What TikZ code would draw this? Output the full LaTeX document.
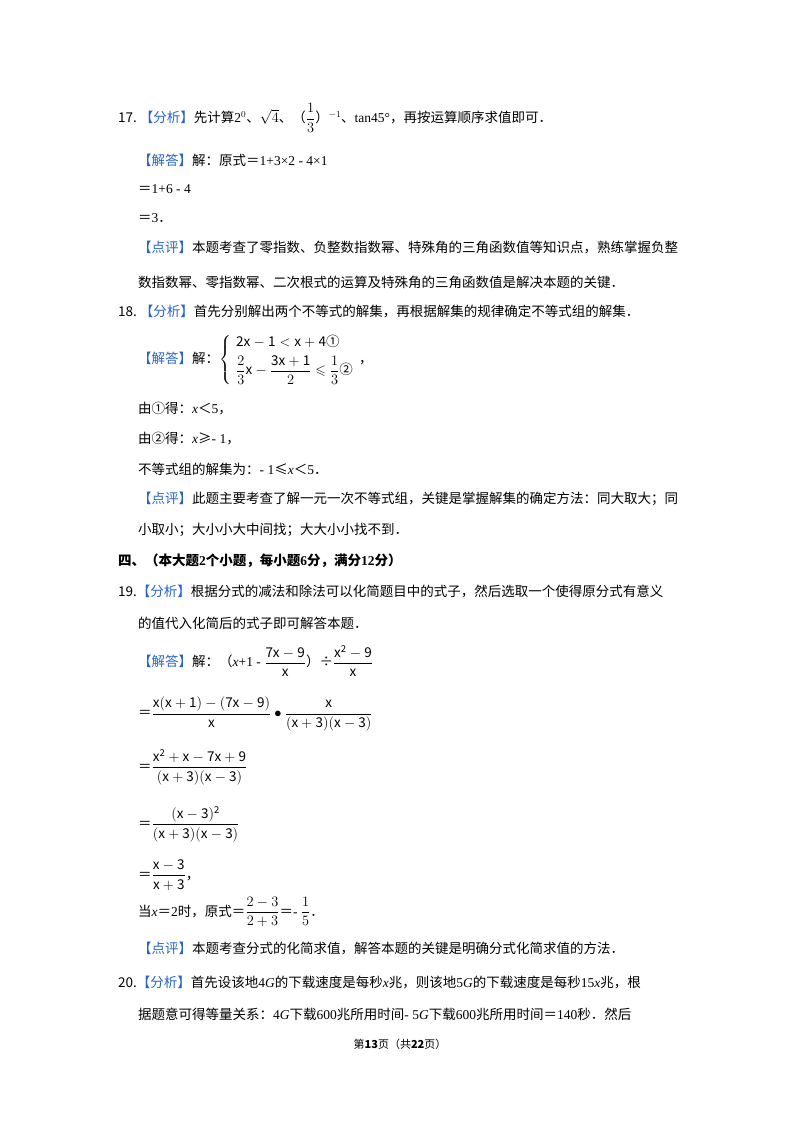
\documentclass[tikz,border=0pt]{standalone}
\usepackage{amsmath,amssymb}
\usepackage{fontspec}
\setmainfont{Noto Sans CJK SC}
\newfontfamily\ser{Liberation Serif}
\definecolor{tagblue}{RGB}{40,100,200}
\newcommand{\tg}[1]{\textcolor{tagblue}{【#1】}}
\begin{document}
\begin{tikzpicture}[x=1pt,y=-1pt,
  t/.style={anchor=west,inner sep=0pt,font=\fontsize{13.5}{16}\selectfont}]
\useasboundingbox (0,0) rectangle (800,1132);
\node[t] (l1) at (118,118) {17.\ \tg{分析}先计算{\ser 2$^0$}、$\sqrt{4}$、（$\dfrac{1}{3}$）$^{-1}$、{\ser tan45°}，再按运算顺序求值即可．};
\node[t] (l2) at (138,160) {\tg{解答}解：原式＝{\ser 1+3×2 - 4×1}};
\node[t] (l3) at (138,189) {＝{\ser 1+6 - 4}};
\node[t] (l4) at (138,218) {＝{\ser 3}．};
\node[t] (l5) at (138,248) {\tg{点评}本题考查了零指数、负整数指数幂、特殊角的三角函数值等知识点，熟练掌握负整};
\node[t] (l6) at (138,282) {数指数幂、零指数幂、二次根式的运算及特殊角的三角函数值是解决本题的关键．};
\node[t] (l7) at (118,312) {18.\ \tg{分析}首先分别解出两个不等式的解集，再根据解集的规律确定不等式组的解集．};
\node[t] (l8) at (138,360) {\tg{解答}解：$\left\{\begin{array}{l}\mathrm{2x-1}<\mathrm{x+4}\text{①}\\[4pt] \dfrac{2}{3}\mathrm{x}-\dfrac{\mathrm{3x+1}}{2}\leqslant\dfrac{1}{3}\text{②}\end{array}\right.$，};
\node[t] (l9) at (138,409) {由①得：{\ser\itshape x}＜{\ser 5}，};
\node[t] (l10) at (138,439) {由②得：{\ser\itshape x}≥{\ser  - 1}，};
\node[t] (l11) at (138,469) {不等式组的解集为：{\ser  - 1}≤{\ser\itshape x}＜{\ser 5}．};
\node[t] (l12) at (138,499) {\tg{点评}此题主要考查了解一元一次不等式组，关键是掌握解集的确定方法：同大取大；同};
\node[t] (l13) at (138,530) {小取小；大小小大中间找；大大小小找不到．};
\node[t,font=\fontsize{13.5}{16}\selectfont\bfseries] (l14) at (118,561) {四、（本大题{\ser 2}个小题，每小题{\ser 6}分，满分{\ser 12}分）};
\node[t] (l15) at (118,591) {19.\tg{分析}根据分式的减法和除法可以化简题目中的式子，然后选取一个使得原分式有意义};
\node[t] (l16) at (138,623) {的值代入化简后的式子即可解答本题．};
\node[t] (l17) at (138,661) {\tg{解答}解：（{\ser\itshape x}{\ser +1 - }$\dfrac{\mathrm{7x-9}}{\mathrm{x}}$）÷$\dfrac{\mathrm{x^2-9}}{\mathrm{x}}$};
\node[t] (l18) at (138,714) {＝$\dfrac{\mathrm{x(x+1)-(7x-9)}}{\mathrm{x}}\bullet\dfrac{\mathrm{x}}{\mathrm{(x+3)(x-3)}}$};
\node[t] (l19) at (138,767) {＝$\dfrac{\mathrm{x^2+x-7x+9}}{\mathrm{(x+3)(x-3)}}$};
\node[t] (l20) at (138,824) {＝$\dfrac{\mathrm{(x-3)^2}}{\mathrm{(x+3)(x-3)}}$};
\node[t] (l21) at (138,875) {＝$\dfrac{\mathrm{x-3}}{\mathrm{x+3}}$，};
\node[t] (l22) at (138,912) {当{\ser\itshape x}＝{\ser 2}时，原式＝$\dfrac{2-3}{2+3}$＝{\ser  - }$\dfrac{1}{5}$．};
\node[t] (l23) at (138,949) {\tg{点评}本题考查分式的化简求值，解答本题的关键是明确分式化简求值的方法．};
\node[t] (l24) at (118,982) {20.\tg{分析}首先设该地{\ser 4\itshape G}的下载速度是每秒{\ser\itshape x}兆，则该地{\ser 5\itshape G}的下载速度是每秒{\ser 15\itshape x}兆，根};
\node[t] (l25) at (138,1014) {据题意可得等量关系：{\ser 4\itshape G}下载{\ser 600}兆所用时间{\ser  - 5\itshape G}下载{\ser 600}兆所用时间＝{\ser 140}秒．然后};
\node[inner sep=0pt,font=\fontsize{11}{13}\selectfont] (ft) at (400,1044) {第\textbf{13}页（共\textbf{22}页）};
\end{tikzpicture}
\end{document}
